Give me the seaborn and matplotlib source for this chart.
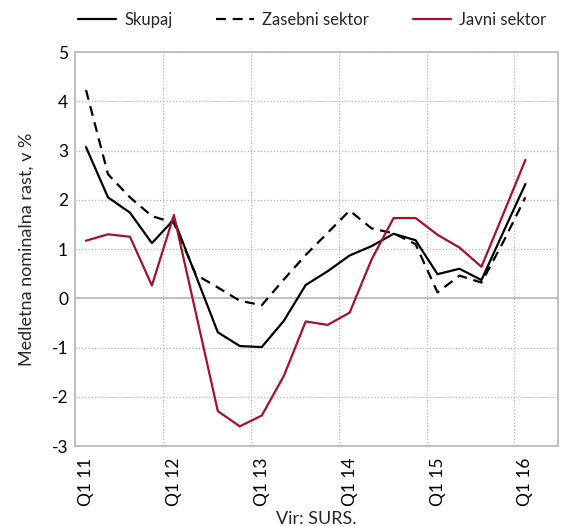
import numpy as np
import pandas as pd
import matplotlib
matplotlib.use("Agg")
import matplotlib.pyplot as plt
import seaborn as sns

# Četrtletja Q1 11 - Q1 16
cetrtletja = ["Q1 11", "Q2 11", "Q3 11", "Q4 11",
              "Q1 12", "Q2 12", "Q3 12", "Q4 12",
              "Q1 13", "Q2 13", "Q3 13", "Q4 13",
              "Q1 14", "Q2 14", "Q3 14", "Q4 14",
              "Q1 15", "Q2 15", "Q3 15", "Q4 15",
              "Q1 16"]

skupaj = [3.07, 2.05, 1.74, 1.12, 1.60, 0.46, -0.69, -0.97, -0.99, -0.46, 0.27,
          0.55, 0.87, 1.06, 1.31, 1.18, 0.49, 0.60, 0.37, 1.35, 2.32]
zasebni = [4.23, 2.52, 2.05, 1.67, 1.53, 0.48, 0.22, -0.05, -0.14, 0.38, 0.88,
           1.33, 1.78, 1.42, 1.32, 1.10, 0.12, 0.46, 0.32, 1.15, 2.05]
javni = [1.17, 1.30, 1.25, 0.26, 1.69, -0.30, -2.29, -2.60, -2.38, -1.58, -0.47,
         -0.54, -0.29, 0.79, 1.63, 1.63, 1.29, 1.03, 0.64, 1.72, 2.81]

oznake = ["Q1 11", "Q1 12", "Q1 13", "Q1 14", "Q1 15", "Q1 16"]

sns.set_style("white")
plt.rcParams['font.family'] = ['Lato', 'DejaVu Sans']
plt.rcParams['axes.unicode_minus'] = False

df = pd.DataFrame({"x": np.arange(len(cetrtletja)),
                   "Skupaj": skupaj,
                   "Zasebni sektor": zasebni,
                   "Javni sektor": javni})

fig = plt.figure(figsize=(5.62, 5.26), dpi=100)
ax = fig.add_axes([0.1335, 0.152, 0.86, 0.749])

rdeca = "#A6112A"
sns.lineplot(data=df, x="x", y="Skupaj", ax=ax, color="black", lw=1.6, label="Skupaj")
sns.lineplot(data=df, x="x", y="Zasebni sektor", ax=ax, color="black", lw=1.6,
             label="Zasebni sektor", dashes=False)
ax.lines[-1].set_dashes((4.5, 3))
sns.lineplot(data=df, x="x", y="Javni sektor", ax=ax, color=rdeca, lw=1.6, label="Javni sektor")

# osi
ax.set_xlim(-0.5, 21.5)
ax.set_ylim(-3, 5)
ax.set_yticks(range(-3, 6))
ax.set_xticks([cetrtletja.index(o) for o in oznake])
ax.set_xticklabels(oznake, rotation=90)
ax.set_xticks(np.arange(3.5, 21, 4), minor=True)
ax.tick_params(axis="both", which="both", length=0, labelsize=12.5, colors="black")
ax.tick_params(axis="x", pad=8)
ax.tick_params(axis="y", pad=5)

ax.grid(False)
ax.grid(axis="x", which="minor", color="#b4b4b4", linestyle=(0, (1, 1.6)), lw=0.9)
for v in range(-2, 6):
    if v != 0:
        ax.axhline(v, color="#b4b4b4", linestyle=(0, (1, 1.6)), lw=0.9, zorder=0)
ax.axhline(0, color="#bfbfbf", lw=1.4, zorder=1)

for s in ax.spines.values():
    s.set_color("#bfbfbf")
    s.set_linewidth(1.4)

ax.set_ylabel("Medletna nominalna rast, v %", fontsize=13, labelpad=12)
ax.set_xlabel("Vir: SURS.", fontsize=13, labelpad=4)

ax.get_legend().remove()
h, l = ax.get_legend_handles_labels()
fig.legend(h, l, loc="center", bbox_to_anchor=(0.555, 0.962), ncol=3, frameon=False,
           fontsize=12, handlelength=2.3, columnspacing=2.6, handletextpad=0.5)

fig.savefig("out.png", dpi=100)
